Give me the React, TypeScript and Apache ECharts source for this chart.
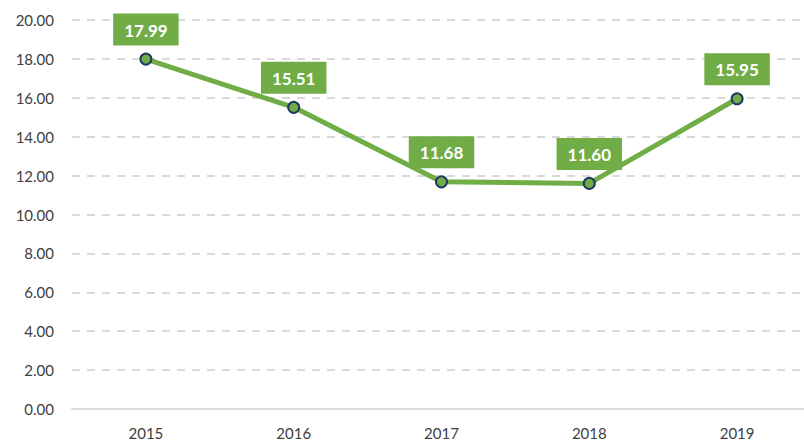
import React, { useEffect, useRef } from "react";
import * as echarts from "echarts";

const years = ["2015", "2016", "2017", "2018", "2019"];
const values = [17.99, 15.51, 11.68, 11.6, 15.95];
const yTicks = { min: 0, max: 20, interval: 2 };

export default function App() {
  const ref = useRef<HTMLDivElement>(null);
  useEffect(() => {
    const chart = echarts.init(ref.current!, undefined, { renderer: "svg" });
    chart.setOption({
      animation: false,
      textStyle: { fontFamily: "Lato, 'Open Sans', sans-serif" },
      grid: { left: 72, right: 0, top: 20, bottom: 34 },
      xAxis: {
        type: "category",
        data: years,
        boundaryGap: true,
        axisLine: { show: true, lineStyle: { color: "#d9d9d9", width: 2 } },
        axisTick: { show: false },
        axisLabel: { color: "#404040", fontSize: 15, margin: 16 },
      },
      yAxis: {
        type: "value",
        min: yTicks.min,
        max: yTicks.max,
        interval: yTicks.interval,
        axisLine: { show: false },
        axisTick: { show: false },
        axisLabel: {
          color: "#404040",
          fontSize: 15,
          margin: 18,
          formatter: (v: number) => v.toFixed(2),
        },
        splitLine: {
          lineStyle: { color: "#d9d9d9", width: 2, type: [8, 7] },
        },
      },
      series: [
        {
          type: "line",
          data: values,
          lineStyle: { color: "#70ad47", width: 5 },
          symbol: "circle",
          symbolSize: 11,
          itemStyle: { color: "#70ad47", borderColor: "#1f3864", borderWidth: 2 },
          label: {
            show: true,
            position: "top",
            distance: 7,
            formatter: (p: any) => p.value.toFixed(2),
            backgroundColor: "#70ad47",
            color: "#ffffff",
            fontSize: 17,
            fontWeight: "bold",
            padding: [8, 11, 7, 11],
          },
        },
      ],
    });
    return () => chart.dispose();
  }, []);
  return (
    <div
      style={{
        position: "absolute",
        left: 0,
        top: 0,
        width: 804,
        height: 443,
        overflow: "hidden",
      }}
    >
      <div ref={ref} style={{ width: 811, height: 443 }} />
    </div>
  );
}
